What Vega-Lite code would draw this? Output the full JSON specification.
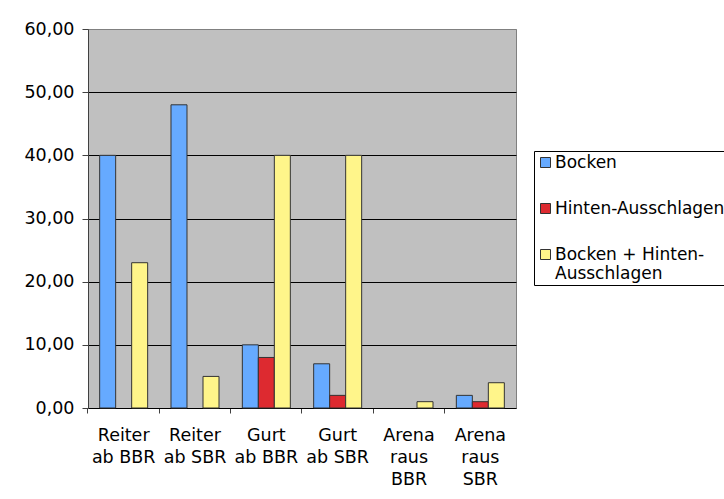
{
  "$schema": "https://vega.github.io/schema/vega-lite/v6.json",
  "autosize": "none",
  "width": 428,
  "height": 379,
  "padding": {"left": 88, "top": 29, "right": 208, "bottom": 91},
  "background": "white",
  "config": {
    "font": "DejaVu Sans",
    "view": {"fill": "#C0C0C0", "stroke": "#808080", "strokeWidth": 1},
    "axis": {"labelFont": "DejaVu Sans", "labelFontSize": 17.5, "labelColor": "#000000", "domainColor": "#404040", "tickColor": "#404040"}
  },
  "data": {
    "values": [
      {"Kategorie": "Reiter ab BBR", "Serie": "Bocken", "Wert": 40},
      {"Kategorie": "Reiter ab BBR", "Serie": "Hinten-Ausschlagen", "Wert": 0},
      {"Kategorie": "Reiter ab BBR", "Serie": "Bocken + Hinten-Ausschlagen", "Wert": 23},
      {"Kategorie": "Reiter ab SBR", "Serie": "Bocken", "Wert": 48},
      {"Kategorie": "Reiter ab SBR", "Serie": "Hinten-Ausschlagen", "Wert": 0},
      {"Kategorie": "Reiter ab SBR", "Serie": "Bocken + Hinten-Ausschlagen", "Wert": 5},
      {"Kategorie": "Gurt ab BBR", "Serie": "Bocken", "Wert": 10},
      {"Kategorie": "Gurt ab BBR", "Serie": "Hinten-Ausschlagen", "Wert": 8},
      {"Kategorie": "Gurt ab BBR", "Serie": "Bocken + Hinten-Ausschlagen", "Wert": 40},
      {"Kategorie": "Gurt ab SBR", "Serie": "Bocken", "Wert": 7},
      {"Kategorie": "Gurt ab SBR", "Serie": "Hinten-Ausschlagen", "Wert": 2},
      {"Kategorie": "Gurt ab SBR", "Serie": "Bocken + Hinten-Ausschlagen", "Wert": 40},
      {"Kategorie": "Arena raus BBR", "Serie": "Bocken", "Wert": 0},
      {"Kategorie": "Arena raus BBR", "Serie": "Hinten-Ausschlagen", "Wert": 0},
      {"Kategorie": "Arena raus BBR", "Serie": "Bocken + Hinten-Ausschlagen", "Wert": 1},
      {"Kategorie": "Arena raus SBR", "Serie": "Bocken", "Wert": 2},
      {"Kategorie": "Arena raus SBR", "Serie": "Hinten-Ausschlagen", "Wert": 1},
      {"Kategorie": "Arena raus SBR", "Serie": "Bocken + Hinten-Ausschlagen", "Wert": 4}
    ]
  },
  "mark": {"type": "bar", "stroke": "#333333"},
  "encoding": {
    "x": {
      "field": "Kategorie",
      "type": "nominal",
      "sort": ["Reiter ab BBR", "Reiter ab SBR", "Gurt ab BBR", "Gurt ab SBR", "Arena raus BBR", "Arena raus SBR"],
      "scale": {"paddingInner": 0.327, "paddingOuter": 0.1635},
      "axis": {
        "title": null,
        "labelAngle": 0,
        "labelAlign": "center",
        "labelBaseline": "top",
        "labelPadding": 13,
        "labelLineHeight": 22,
        "tickSize": 5,
        "bandPosition": -0.243,
        "domainColor": "#000000",
        "tickColor": "#404040",
        "labelExpr": "datum.label == 'Reiter ab BBR' ? ['Reiter', 'ab BBR'] : datum.label == 'Reiter ab SBR' ? ['Reiter', 'ab SBR'] : datum.label == 'Gurt ab BBR' ? ['Gurt', 'ab BBR'] : datum.label == 'Gurt ab SBR' ? ['Gurt', 'ab SBR'] : datum.label == 'Arena raus BBR' ? ['Arena', 'raus', 'BBR'] : ['Arena', 'raus', 'SBR']"
      }
    },
    "xOffset": {
      "field": "Serie",
      "type": "nominal",
      "sort": ["Bocken", "Hinten-Ausschlagen", "Bocken + Hinten-Ausschlagen"],
      "scale": {"paddingInner": 0, "paddingOuter": 0}
    },
    "y": {
      "field": "Wert",
      "type": "quantitative",
      "scale": {"domain": [0, 60], "nice": false},
      "axis": {
        "title": null,
        "values": [0, 10, 20, 30, 40, 50, 60],
        "labelExpr": "replace(format(datum.value, '.2f'), '.', ',')",
        "tickSize": 6,
        "labelPadding": 8,
        "grid": true,
        "gridColor": {"condition": {"test": "datum.value == 60 || datum.value == 0", "value": "#808080"}, "value": "#000000"},
        "gridWidth": 1,
        "gridOpacity": 1
      }
    },
    "strokeWidth": {"condition": {"test": "datum.Wert == 0", "value": 0}, "value": 1},
    "color": {
      "field": "Serie",
      "type": "nominal",
      "sort": ["Bocken", "Hinten-Ausschlagen", "Bocken + Hinten-Ausschlagen"],
      "scale": {
        "domain": ["Bocken", "Hinten-Ausschlagen", "Bocken + Hinten-Ausschlagen"],
        "range": ["#66AAFF", "#DD2A30", "#FFF58A"]
      },
      "legend": {
        "title": null,
        "orient": "none",
        "legendX": 446,
        "legendY": 122,
        "symbolType": "square",
        "symbolSize": 100,
        "symbolStrokeColor": "#333333",
        "symbolStrokeWidth": 1,
        "labelFont": "DejaVu Sans",
        "labelFontSize": 17,
        "labelColor": "#000000",
        "labelLimit": 400,
        "labelOffset": 1,
        "rowPadding": 28,
        "padding": 3,
        "strokeColor": "#000000",
        "fillColor": "#FFFFFF",
        "labelLineHeight": 21,
        "labelExpr": "datum.label == 'Bocken + Hinten-Ausschlagen' ? ['Bocken + Hinten-', 'Ausschlagen'] : datum.label"
      }
    }
  }
}
